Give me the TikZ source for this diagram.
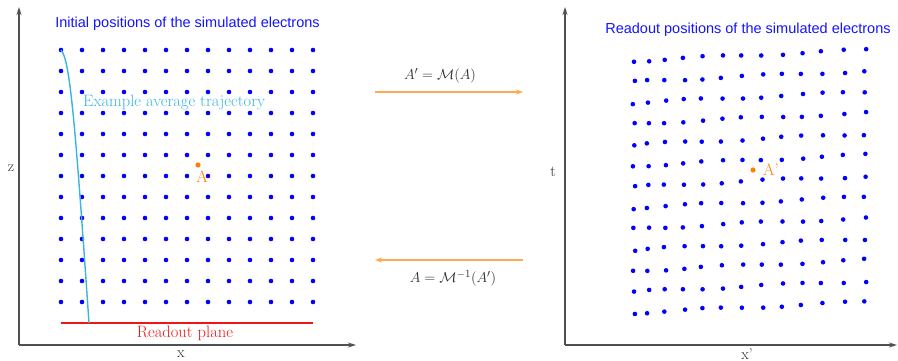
\documentclass[tikz,border=0pt]{standalone}
\usepackage{fontspec}
\newfontfamily\arialfont{Liberation Sans}
\usetikzlibrary{arrows.meta}
\definecolor{dotblue}{RGB}{0,0,255}
\definecolor{titleblue}{RGB}{20,20,255}
\definecolor{trajcyan}{RGB}{60,180,220}
\definecolor{ptorange}{RGB}{255,128,0}
\definecolor{arrorange}{RGB}{255,170,80}
\definecolor{axisgray}{RGB}{80,80,80}
\definecolor{textgray}{RGB}{45,45,45}
\definecolor{planered}{RGB}{240,20,20}
\begin{document}
\begin{tikzpicture}[x=1pt,y=-1pt,
  axis/.style={draw=axisgray,line width=1.3pt,-{Stealth[length=8pt,width=5pt]}},
  elec/.style={circle,fill=dotblue,inner sep=0pt,minimum size=4.6pt},
  special/.style={circle,fill=ptorange,inner sep=0pt,minimum size=5.2pt},
  titletext/.style={text=titleblue,font=\arialfont\fontsize{14.5}{17}\selectfont,inner sep=0pt},
  serif/.style={font=\fontsize{16.5}{19}\selectfont,inner sep=0pt},
  axislabel/.style={text=textgray,font=\fontsize{15.5}{18}\selectfont,inner sep=0pt},
  maparrow/.style={draw=arrorange,line width=1.3pt,-{Stealth[length=7pt,width=5pt]}},
  maplabel/.style={text=textgray,font=\fontsize{15.5}{18}\selectfont,inner sep=0pt},
]
\useasboundingbox (0,0) rectangle (898,361);

% ---------- left panel axes
\coordinate (LO) at (19,345);
\coordinate (LY) at (19,7);
\coordinate (LX) at (356,345);
\draw[axis] (LO) -- (LY);
\draw[axis] (LO) -- (LX);
\node[axislabel] (lz) at (11,168) {z};
\node[axislabel] (lx) at (181,354) {x};

% ---------- right panel axes
\coordinate (RO) at (565,345);
\coordinate (RY) at (565,7);
\coordinate (RX) at (897,345);
\draw[axis] (RO) -- (RY);
\draw[axis] (RO) -- (RX);
\node[axislabel] (rt) at (553,172) {t};
\node[axislabel] (rx) at (747,354) {x'};

% ---------- titles
\node[titletext] (ltitle) at (187.5,24) {Initial positions of the simulated electrons};
\node[titletext] (rtitle) at (748,30) {Readout positions of the simulated electrons};

% ---------- left grid
\foreach \i in {0,...,12}{
  \foreach \j in {0,...,12}{
    \node[elec] (L-\i-\j) at ({61+21*\i},{50+21*\j}) {};
  }
}

% ---------- right grid (distorted)
\foreach \xx [count=\c from 0] in {634,648,665,684,702,722,742,762,782,802,822,844,865}{
  \foreach \j in {0,...,12}{
    \pgfmathsetmacro{\px}{\xx+1.2*sin(\c*97+\j*131)}
    \pgfmathsetmacro{\py}{50+21*\j+11*(1-\c/12)+1.2*sin(\c*53+\j*211+40)}
    \node[elec] (R-\c-\j) at (\px,\py) {};
  }
}

% ---------- readout plane
\coordinate (P1) at (61,323);
\coordinate (P2) at (313,323);
\draw[draw=planered,line width=1.5pt] (P1) -- (P2);
\node[serif,text=planered] (plane) at (185,333) {Readout plane};

% ---------- trajectory
\coordinate (T0) at (61,50);
\coordinate (T1) at (89,323);
\draw[trajcyan,line width=1.4pt] (T0) .. controls (70,60) and (75,120) .. (T1);
\node[serif,text=trajcyan,anchor=west] (trajlabel) at (83,102) {Example average trajectory};

% ---------- point A and A'
\node[special] (A) at (198,165) {};
\node[serif,text=ptorange] (Alabel) at (202,177) {A};
\node[special] (Ap) at (753,170) {};
\node[serif,text=ptorange] (Aplabel) at (771,170) {A'};

% ---------- mapping arrows
\coordinate (M1a) at (375,92);
\coordinate (M1b) at (523,92);
\draw[maparrow] (M1a) -- (M1b);
\node[maplabel] (map) at (440,76) {$A' = \mathcal{M}(A)$};
\coordinate (M2a) at (523,260);
\coordinate (M2b) at (375,260);
\draw[maparrow] (M2a) -- (M2b);
\node[maplabel] (invmap) at (453,278) {$A = \mathcal{M}^{-1}(A')$};
\end{tikzpicture}
\end{document}
